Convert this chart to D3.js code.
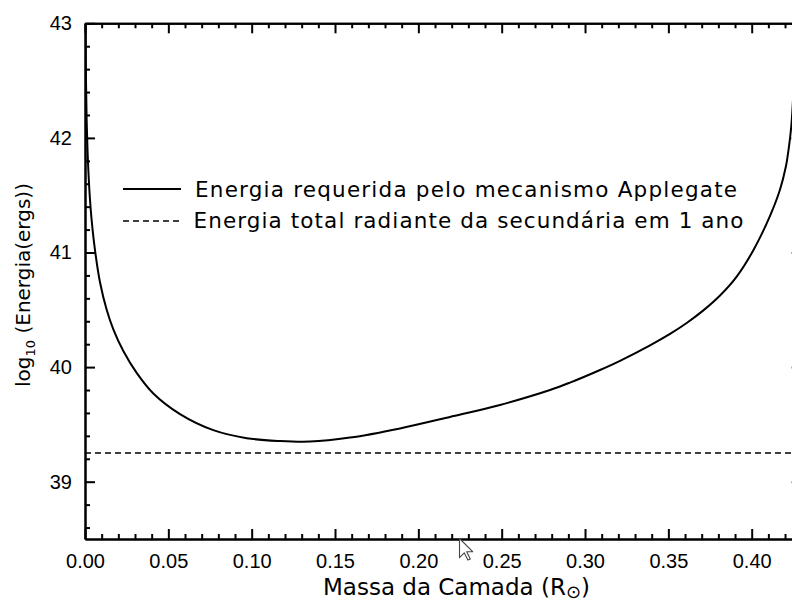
<!DOCTYPE html>
<html>
<head>
<meta charset="utf-8">
<script src="https://cdn.jsdelivr.net/npm/d3@7"></script>
<style>
  html, body { margin: 0; padding: 0; background: #fff; }
  svg { display: block; }
</style>
</head>
<body>
<svg id="chart" width="792" height="601"></svg>
<script>
// Shell mass (solar radii) and log10 of the required energy (ergs)
const massa = [0.0002, 0.0005, 0.001, 0.0015, 0.002, 0.003, 0.004, 0.006, 0.009, 0.013,
               0.017, 0.023, 0.031, 0.041, 0.057, 0.077, 0.097, 0.117, 0.135, 0.159,
               0.189, 0.219, 0.249, 0.279, 0.291, 0.309, 0.321, 0.339, 0.351, 0.361,
               0.371, 0.381, 0.391, 0.401, 0.411, 0.417, 0.4205, 0.4225, 0.4238, 0.4248,
               0.4255, 0.426];
const logEnergia = [43.17, 42.59, 42.15, 41.90, 41.72, 41.46, 41.28, 41.02, 40.74, 40.50,
                    40.33, 40.14, 39.95, 39.77, 39.59, 39.45, 39.38, 39.355, 39.35, 39.385,
                    39.465, 39.565, 39.67, 39.80, 39.865, 39.975, 40.055, 40.19, 40.29, 40.385,
                    40.495, 40.625, 40.79, 41.02, 41.32, 41.55, 41.75, 41.94, 42.11, 42.34,
                    42.64, 43.00];

// Total radiant energy of the secondary over one year (log10 ergs)
const energiaSecundaria = 39.25;

// Axis ticks
const xTicks = [0.00, 0.05, 0.10, 0.15, 0.20, 0.25, 0.30, 0.35, 0.40];
const xTickLabels = ["0.00", "0.05", "0.10", "0.15", "0.20", "0.25", "0.30", "0.35", "0.40"];
const yTicks = [39, 40, 41, 42, 43];
const yTickLabels = ["39", "40", "41", "42", "43"];

const legendLabels = ["Energia requerida pelo mecanismo Applegate",
                      "Energia total radiante da secundária em 1 ano"];

const svg = d3.select("#chart");

const plotLeft = 85, plotRight = 801.7, plotTop = 23.3, plotBottom = 539;
const x = d3.scaleLinear().domain([0, 0.43]).range([plotLeft, plotRight]);
const y = d3.scaleLinear().domain([38.5, 43]).range([plotBottom, plotTop]);

svg.append("defs").append("clipPath").attr("id", "plotclip")
  .append("rect").attr("x", plotLeft).attr("y", plotTop)
  .attr("width", plotRight - plotLeft).attr("height", plotBottom - plotTop);

const xMinor = d3.range(0, 0.4301, 0.01).filter(v => Math.abs(Math.round(v * 20) - v * 20) > 1e-6);
const yMinor = d3.range(38.6, 43.0, 0.2).filter(v => Math.abs(Math.round(v) - v) > 1e-6);

const tickFont = "'Liberation Sans', Arial, sans-serif";
const textFont = "'DejaVu Sans', Verdana, sans-serif";

function styleAxis(g) {
  g.selectAll("path.domain").attr("stroke", "#000").attr("stroke-width", 2);
  g.selectAll(".tick line").attr("stroke", "#000").attr("stroke-width", 2);
  g.selectAll(".tick text").attr("fill", "#000")
    .style("font-family", tickFont).style("font-size", "20px");
}

// Minor ticks (all four sides, pointing inward)
svg.append("g").attr("transform", `translate(0,${plotBottom})`)
  .call(d3.axisBottom(x).tickValues(xMinor).tickSize(-5).tickSizeOuter(0).tickFormat(""))
  .call(styleAxis);
svg.append("g").attr("transform", `translate(0,${plotTop})`)
  .call(d3.axisTop(x).tickValues(xMinor).tickSize(-5).tickSizeOuter(0).tickFormat(""))
  .call(styleAxis);
svg.append("g").attr("transform", `translate(${plotLeft},0)`)
  .call(d3.axisLeft(y).tickValues(yMinor).tickSize(-5).tickSizeOuter(0).tickFormat(""))
  .call(styleAxis);
svg.append("g").attr("transform", `translate(${plotRight},0)`)
  .call(d3.axisRight(y).tickValues(yMinor).tickSize(-5).tickSizeOuter(0).tickFormat(""))
  .call(styleAxis);

// Major ticks
svg.append("g").attr("transform", `translate(0,${plotBottom})`)
  .call(d3.axisBottom(x).tickValues(xTicks).tickSize(-10).tickSizeOuter(0).tickPadding(14.3)
    .tickFormat((d, i) => xTickLabels[i]))
  .call(styleAxis);
svg.append("g").attr("transform", `translate(0,${plotTop})`)
  .call(d3.axisTop(x).tickValues(xTicks).tickSize(-10).tickSizeOuter(0).tickFormat(""))
  .call(styleAxis);
svg.append("g").attr("transform", `translate(${plotLeft},0)`)
  .call(d3.axisLeft(y).tickValues(yTicks).tickSize(-10).tickSizeOuter(0).tickPadding(13)
    .tickFormat((d, i) => yTickLabels[i]))
  .call(styleAxis);
svg.append("g").attr("transform", `translate(${plotRight},0)`)
  .call(d3.axisRight(y).tickValues(yTicks).tickSize(-10).tickSizeOuter(0).tickFormat(""))
  .call(styleAxis);

// Reference level: secondary's yearly radiant energy
svg.append("line")
  .attr("x1", plotLeft).attr("x2", plotRight)
  .attr("y1", y(energiaSecundaria)).attr("y2", y(energiaSecundaria))
  .attr("stroke", "#000").attr("stroke-width", 1.6)
  .attr("stroke-dasharray", "6,4");

// Required energy curve
const line = d3.line()
  .x((d, i) => x(massa[i]))
  .y(d => y(d))
  .curve(d3.curveCatmullRom.alpha(0.5));

svg.append("path")
  .attr("clip-path", "url(#plotclip)")
  .attr("d", line(logEnergia))
  .attr("fill", "none").attr("stroke", "#000").attr("stroke-width", 2);

// Legend
const legend = svg.append("g");
legend.append("line").attr("x1", 123).attr("x2", 181).attr("y1", 189).attr("y2", 189)
  .attr("stroke", "#000").attr("stroke-width", 2);
legend.append("line").attr("x1", 123).attr("x2", 181).attr("y1", 221).attr("y2", 221)
  .attr("stroke", "#000").attr("stroke-width", 1.6).attr("stroke-dasharray", "6,4");
legend.append("text").attr("x", 195).attr("y", 196.7)
  .attr("textLength", 542).attr("lengthAdjust", "spacing")
  .style("font-family", textFont).style("font-size", "21.5px")
  .text(legendLabels[0]);
legend.append("text").attr("x", 193.5).attr("y", 228)
  .attr("textLength", 550).attr("lengthAdjust", "spacing")
  .style("font-family", textFont).style("font-size", "21.5px")
  .text(legendLabels[1]);

// Axis titles
const xTitle = svg.append("text")
  .attr("x", 323).attr("y", 595.2).attr("text-anchor", "start")
  .style("font-family", textFont).style("font-size", "23px");
xTitle.append("tspan").text("Massa da Camada (R");
xTitle.append("tspan").attr("dy", 3).style("font-size", "18px").text("⊙");
xTitle.append("tspan").attr("dy", -3).text(")");

const yTitle = svg.append("text")
  .attr("transform", "translate(30,285) rotate(-90)")
  .attr("text-anchor", "middle")
  .style("font-family", textFont).style("font-size", "20px");
yTitle.append("tspan").text("log");
yTitle.append("tspan").attr("dy", 5).style("font-size", "13px").text("10");
yTitle.append("tspan").attr("dy", -5).text(" (Energia(ergs))");

// Mouse pointer glyph
svg.append("path")
  .attr("d", "M0,0 L0,16 L4,12 L7,18 L9,17 L6,11 L11,11 Z")
  .attr("transform", "translate(459.5,538.5) scale(1.2)")
  .attr("fill", "#fff").attr("stroke", "#444").attr("stroke-width", 0.9)
  .attr("stroke-linejoin", "round");
</script>
</body>
</html>
